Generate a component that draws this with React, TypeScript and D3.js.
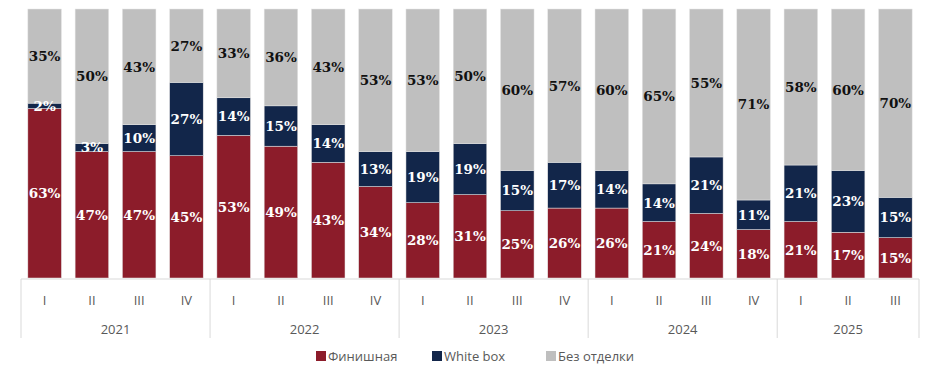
import React from 'react';
import * as d3 from 'd3';

const years = ['2021', '2022', '2023', '2024', '2025'];
const quarters = [
  ['I', 'II', 'III', 'IV'],
  ['I', 'II', 'III', 'IV'],
  ['I', 'II', 'III', 'IV'],
  ['I', 'II', 'III', 'IV'],
  ['I', 'II', 'III'],
];

const seriesNames = ['Финишная', 'White box', 'Без отделки'];
const finish = [63, 47, 47, 45, 53, 49, 43, 34, 28, 31, 25, 26, 26, 21, 24, 18, 21, 17, 15];
const whiteBox = [2, 3, 10, 27, 14, 15, 14, 13, 19, 19, 15, 17, 14, 14, 21, 11, 21, 23, 15];
const noFinish = [35, 50, 43, 27, 33, 36, 43, 53, 53, 50, 60, 57, 60, 65, 55, 71, 58, 60, 70];

const colors = ['#8c1c2a', '#12264a', '#bfbfbf'];
const labelColors = ['#ffffff', '#ffffff', '#111111'];

const W = 939;
const H = 370;
const left = 21;
const right = 919;
const top = 9;
const bottom = 278;

export default function App() {
  // flat list of categories (year + quarter)
  const cats: { year: string; q: string; i: number }[] = [];
  years.forEach((y, yi) => quarters[yi].forEach((q) => cats.push({ year: y, q, i: cats.length })));

  const rows = cats.map((c, i) => ({
    i,
    [seriesNames[0]]: finish[i],
    [seriesNames[1]]: whiteBox[i],
    [seriesNames[2]]: noFinish[i],
  }));

  const stacked = d3.stack<any>().keys(seriesNames).offset(d3.stackOffsetExpand)(rows);

  const x = d3
    .scaleBand<number>()
    .domain(cats.map((c) => c.i))
    .range([left, right])
    .paddingInner(0.29)
    .paddingOuter(0.145);

  const y = d3.scaleLinear().domain([0, 1]).range([bottom, top]);

  const step = x.step();
  const axisY = bottom + 1;

  // year group boundaries
  let start = 0;
  const groups = years.map((yr, yi) => {
    const g = { year: yr, from: left + start * step, to: left + (start + quarters[yi].length) * step };
    start += quarters[yi].length;
    return g;
  });

  const legendX = [316, 432, 546];

  return (
    <svg width={W} height={H} style={{ position: 'absolute', left: 0, top: 0, background: '#fff' }}>
      {stacked.map((s, si) => (
        <g key={s.key}>
          {s.map((d, i) => (
            <rect
              key={i}
              x={x(i)}
              y={y(d[1])}
              width={x.bandwidth()}
              height={y(d[0]) - y(d[1])}
              fill={colors[si]}
              stroke="#e6e6e6"
              strokeWidth={0.5}
            />
          ))}
        </g>
      ))}

      {stacked.map((s, si) => (
        <g key={'l' + s.key}>
          {s.map((d, i) => {
            const v = [finish, whiteBox, noFinish][si][i];
            return (
              <text
                key={i}
                x={(x(i) as number) + x.bandwidth() / 2}
                y={(y(d[0]) + y(d[1])) / 2}
                dy="0.36em"
                textAnchor="middle"
                fontFamily="'DejaVu Serif', serif"
                fontWeight="bold"
                fontSize={13.5}
                fill={labelColors[si]}
              >
                {v}%
              </text>
            );
          })}
        </g>
      ))}

      {/* category axis */}
      <line x1={left} x2={right} y1={axisY} y2={axisY} stroke="#d9d9d9" />
      {groups.map((g, gi) => (
        <g key={g.year}>
          {gi === 0 && <line x1={g.from} x2={g.from} y1={axisY} y2={338} stroke="#d9d9d9" />}
          <line x1={g.to} x2={g.to} y1={axisY} y2={338} stroke="#d9d9d9" />
          <text
            x={(g.from + g.to) / 2}
            y={329}
            dy="0.35em"
            textAnchor="middle"
            fontFamily="'Open Sans', sans-serif"
            fontSize={13}
            fill="#595959"
          >
            {g.year}
          </text>
        </g>
      ))}
      {cats.map((c) => (
        <text
          key={'q' + c.i}
          x={(x(c.i) as number) + x.bandwidth() / 2}
          y={300}
          dy="0.35em"
          textAnchor="middle"
          fontFamily="'Open Sans', sans-serif"
          fontSize={13}
          fill="#595959"
        >
          {c.q}
        </text>
      ))}

      {/* legend */}
      {seriesNames.map((n, i) => (
        <g key={n} transform={`translate(${legendX[i]},351)`}>
          <rect width={10} height={10} fill={colors[i]} />
          <text x={12} y={5} dy="0.35em" fontFamily="'Open Sans', sans-serif" fontSize={13} fill="#595959">
            {n}
          </text>
        </g>
      ))}
    </svg>
  );
}
